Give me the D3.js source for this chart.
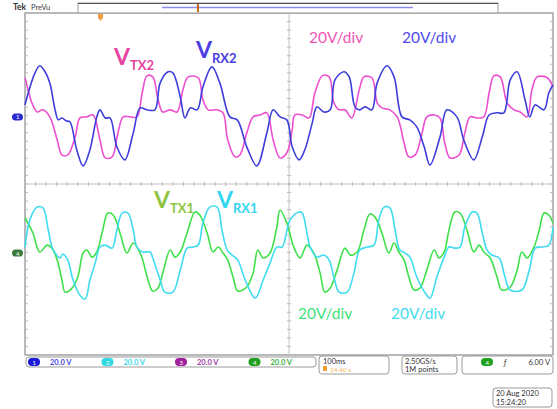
<!DOCTYPE html>
<html>
<head>
<meta charset="utf-8">
<script src="https://cdn.jsdelivr.net/npm/d3@7.9.0/dist/d3.min.js"></script>
<style>
  body { margin: 0; background: #fff; }
  svg { display: block; font-family: Lato, "Open Sans", sans-serif; }
</style>
</head>
<body>
<svg id="scope" width="557" height="409"></svg>
<script>
// time in ms (100 ms/div, 10 div), voltage in V (20 V/div)
const rx2 = [[0,5.6],[9,13.6],[19,20.6],[28,23.9],[38,21.1],[47,15.9],[57,3.3],[63,-1.4],[70,-0.5],[78,-1.9],[85,-2.3],[98,-15.4],[110,-22.9],[123,-15.4],[136,0],[142,3.3],[152,-0.5],[161,-0.5],[174,-14],[189,-20.1],[205,-7.5],[218,4.2],[231,3.3],[246,3.3],[256,15.9],[271,21.1],[280,20.6],[294,9.4],[303,-0.5],[313,4.2],[326,3.3],[337,14],[354,23.4],[369,15.9],[388,0],[402,-1.4],[420,-14],[439,-22.9],[458,-7.5],[470,3.3],[483,0],[496,-1.4],[506,-14],[519,-20.1],[530,-15.4],[544,-2.8],[553,4.7],[566,2.3],[578,3.3],[587,17.3],[604,21.1],[614,18.7],[625,4.7],[634,3.3],[644,4.7],[657,3.3],[667,15.9],[686,23.9],[699,18.7],[714,0],[729,-1.4],[742,-4.7],[756,-14],[767,-22.5],[786,-9.4],[799,3.3],[818,0],[831,-10.8],[850,-20.1],[866,-9.4],[879,0.9],[894,1.9],[907,1.9],[919,17.3],[932,21.1],[947,8],[956,0],[966,5.6],[983,3.3],[992,11.2],[1000,15]];
const tx2 = [[0,18.3],[6,12.6],[13,6.6],[23,2.3],[34,3.3],[47,0],[61,-10.8],[70,-17.8],[81,-17.8],[95,-9.4],[104,-0.5],[117,0],[129,0.9],[142,-10.8],[152,-19.2],[165,-18.7],[176,-7.5],[186,0],[199,0],[212,0],[222,11.2],[231,19.2],[242,18.7],[252,8],[261,2.3],[275,3.3],[288,2.3],[299,12.6],[309,18.7],[328,18.3],[337,8],[347,3.3],[364,3.3],[375,1.9],[384,-10.8],[398,-18.7],[407,-17.8],[420,-7.5],[432,0],[445,0.9],[458,1.9],[470,-10.8],[483,-19.2],[496,-16.8],[506,-6.1],[511,0.9],[525,0.9],[538,-0.5],[549,11.2],[563,19.2],[576,18.7],[585,6.6],[595,3.3],[606,3.3],[619,-0.5],[633,12.6],[642,18.7],[657,18.3],[667,6.6],[676,4.2],[691,3.3],[705,0],[718,-12.2],[727,-18.7],[739,-17.8],[752,-7.5],[761,0],[775,0.9],[786,-0.5],[795,-12.2],[805,-19.2],[822,-17.8],[833,-7.5],[843,0],[856,-0.5],[869,0],[879,11.2],[888,19.2],[900,18.7],[913,6.6],[926,3.3],[938,2.3],[951,0],[960,12.6],[970,18.7],[989,18.3],[1000,14]];
const rx1 = [[0,2.8],[9,15.4],[23,21.5],[34,21.1],[44,10.8],[51,2.8],[57,0],[66,-2.3],[72,-0.5],[81,-3.3],[91,-12.6],[104,-19.7],[114,-21.5],[123,-12.6],[133,-4.7],[142,2.8],[152,3.7],[165,2.3],[174,10.8],[184,18.7],[195,18.7],[205,10.8],[212,2.8],[223,0.5],[237,0.5],[242,-2.3],[256,-12.6],[265,-18.3],[280,-18.3],[294,-8],[307,2.3],[318,2.8],[328,3.7],[337,14],[350,21.5],[364,21.5],[373,10.8],[383,1.4],[392,-0.9],[403,-3.3],[417,-12.6],[436,-21.1],[451,-12.6],[464,-4.7],[477,2.8],[487,2.8],[502,15.4],[519,19.2],[525,18.7],[534,9.4],[540,2.8],[553,-1.9],[566,-0.9],[576,-3.3],[585,-11.2],[595,-18.3],[610,-18.3],[623,-9.4],[634,1.4],[648,2.8],[661,3.7],[670,15.4],[680,21.5],[691,21.1],[701,10.8],[710,1.4],[720,0],[729,-1.9],[742,-11.2],[758,-18.7],[767,-21.1],[780,-11.2],[794,-1.9],[803,2.8],[814,2.3],[824,2.8],[833,12.2],[847,19.2],[856,18.7],[866,9.4],[875,1.4],[884,-0.9],[898,-2.3],[909,-11.2],[919,-17.3],[941,-17.3],[955,-8],[966,2.3],[979,2.8],[992,3.7],[1000,12.2]];
const tx1 = [[0,16.4],[15,9.4],[28,0.5],[42,3.7],[51,2.3],[61,-3.3],[70,-12.6],[76,-18.3],[89,-16.4],[100,-11.2],[110,0],[117,1.4],[127,-1.9],[136,0.5],[146,9.4],[157,18.7],[167,17.8],[180,9.4],[193,0],[205,4.7],[218,0],[223,-3.3],[233,-12.6],[242,-17.8],[252,-16.4],[261,-9.4],[275,1.4],[284,-1.9],[294,0.5],[307,9.4],[322,19.2],[331,17.8],[345,9.4],[356,0.5],[366,2.8],[375,0],[384,-3.3],[394,-11.2],[403,-17.8],[420,-15.9],[432,-9.4],[441,1.4],[451,-2.3],[464,0],[477,12.2],[483,20.1],[496,14],[509,2.8],[521,-2.3],[534,3.7],[547,0],[559,-9.4],[568,-18.3],[578,-16.4],[591,-8],[606,2.3],[616,-0.9],[629,0.5],[642,10.8],[653,18.3],[663,16.8],[676,9.4],[689,0],[699,4.7],[708,0.5],[718,-3.3],[727,-11.2],[737,-17.3],[748,-16.4],[761,-8],[775,1.4],[784,-2.3],[794,0.5],[803,10.8],[814,19.2],[824,18.7],[837,10.8],[850,0.5],[860,3.7],[869,0.5],[881,-2.3],[894,-11.2],[903,-17.3],[919,-15.9],[932,-8],[941,0.5],[951,-2.3],[964,2.8],[974,10.8],[983,18.7],[992,17.8],[1000,14]];

const channels = ["1", "2", "3", "4"];
const channelScales = ["20.0 V", "20.0 V", "20.0 V", "20.0 V"];
const timebase = "100ms";
const triggerTime = "14.40 s";
const sampleRate = "2.50GS/s";
const recordLength = "1M points";
const triggerLevel = "6.00 V";
const dateText = ["20 Aug 2020", "15:24:20"];

const svg = d3.select("#scope");
const L = 25, R = 553, T = 13, B = 355;
const divX = (R - L) / 10, divY = (B - T) / 8;

const x = d3.scaleLinear().domain([0, 1000]).range([L, R]);
// full screen is 8 div * 20 V
const y = d3.scaleLinear().domain([-80, 80]).range([B, T]);
const topOffset = 31.4, botOffset = -32.3;

// graticule
const g = svg.append("g");
g.append("rect").attr("x", L).attr("y", T).attr("width", R - L).attr("height", B - T)
  .attr("fill", "none").attr("stroke", "#8a8a8a").attr("stroke-width", 1.2);
const cx = (L + R) / 2, cy = (T + B) / 2;
g.append("line").attr("x1", L).attr("x2", R).attr("y1", cy).attr("y2", cy).attr("stroke", "#c4c4c4");
g.append("line").attr("x1", cx).attr("x2", cx).attr("y1", T).attr("y2", B).attr("stroke", "#c4c4c4");
for (let i = 0; i <= 50; i++) {
  const xx = L + i * divX / 5;
  g.append("line").attr("x1", xx).attr("x2", xx).attr("y1", cy - 2).attr("y2", cy + 2).attr("stroke", "#bbb");
}
for (let i = 0; i <= 40; i++) {
  const yy = T + i * divY / 5;
  g.append("line").attr("x1", cx - 2).attr("x2", cx + 2).attr("y1", yy).attr("y2", yy).attr("stroke", "#bbb");
  g.append("line").attr("x1", L).attr("x2", L + 3).attr("y1", yy).attr("y2", yy).attr("stroke", "#bbb");
  g.append("line").attr("x1", R - 3).attr("x2", R).attr("y1", yy).attr("y2", yy).attr("stroke", "#bbb");
}

function trace(data, offset, color) {
  const line = d3.line().x(d => x(d[0])).y(d => y(d[1] + offset)).curve(d3.curveCatmullRom.alpha(0.5));
  svg.append("path").datum(data).attr("d", line)
    .attr("fill", "none").attr("stroke", color).attr("stroke-width", 1.6)
    .attr("stroke-linejoin", "round");
}
trace(tx2, topOffset, "#ec4fcf");
trace(rx2, topOffset, "#3d3ddc");
trace(tx1, botOffset, "#3fe04a");
trace(rx1, botOffset, "#3fdcef");

// ground markers
function marker(yy, color, label) {
  svg.append("rect").attr("x", 12).attr("y", yy - 3.5).attr("width", 11).attr("height", 7).attr("rx", 3.5).attr("fill", color);
  svg.append("text").attr("x", 16).attr("y", yy + 2.5).attr("font-size", 6).attr("fill", "#fff").text(label);
}
marker(y(topOffset), "#2a2ad0", channels[0]);
marker(y(botOffset), "#3a7a3a", channels[3]);

// trace labels
function vlabel(xx, yy, sub, color) {
  const t = svg.append("text").attr("x", xx).attr("y", yy).attr("fill", color).attr("font-weight", "bold");
  t.append("tspan").attr("font-size", 23).text("V");
  t.append("tspan").attr("font-size", 13).attr("dy", 5).text(sub);
}
vlabel(114, 65, "TX2", "#e5449f");
vlabel(196, 58, "RX2", "#4a3ee2");
vlabel(154, 208, "TX1", "#8fc43f");
vlabel(217, 208, "RX1", "#33d6f0");

function divText(xx, yy, color) {
  svg.append("text").attr("x", xx).attr("y", yy).attr("font-size", 15.5).attr("fill", color).text("20V/div");
}
divText(309, 43, "#ef55b4");
divText(402, 43, "#5048ee");
divText(298, 319, "#3fe37a");
divText(391, 319, "#3fdcef");

// header
svg.append("text").attr("x", 13).attr("y", 10).attr("font-size", 8.5).attr("font-weight", "bold").attr("fill", "#333").text("Tek");
svg.append("text").attr("x", 31).attr("y", 10).attr("font-size", 7.5).attr("fill", "#444").text("PreVu");
svg.append("rect").attr("x", 78).attr("y", 3).attr("width", 420).attr("height", 10).attr("fill", "#fff").attr("stroke", "#999");
svg.append("line").attr("x1", 78).attr("x2", 498).attr("y1", 3.5).attr("y2", 3.5).attr("stroke", "#555").attr("stroke-width", 1.2);
svg.append("line").attr("x1", 162).attr("x2", 413).attr("y1", 7.5).attr("y2", 7.5).attr("stroke", "#8c8cee").attr("stroke-width", 1.5);
svg.append("line").attr("x1", 198).attr("x2", 198).attr("y1", 4).attr("y2", 12).attr("stroke", "#c06a20").attr("stroke-width", 2);
svg.append("path").attr("d", "M98,14 L103,14 L103,18 L100.5,21 L98,18 Z").attr("fill", "#f0a040");

// status bar
function box(x0, y0, w, h) {
  svg.append("rect").attr("x", x0).attr("y", y0).attr("width", w).attr("height", h).attr("rx", 3)
    .attr("fill", "#fff").attr("stroke", "#999").attr("stroke-width", 1);
}
box(26, 357, 290, 10);
const chColors = ["#1a1ad8", "#30d8e0", "#a0209a", "#20a020"];
const chText = ["#4a4ae0", "#40d8e8", "#a040a8", "#40b040"];
channels.forEach((c, i) => {
  const x0 = 28 + i * 73.5;
  svg.append("rect").attr("x", x0).attr("y", 358).attr("width", 12).attr("height", 8).attr("rx", 4).attr("fill", chColors[i]);
  svg.append("text").attr("x", x0 + 4.5).attr("y", 364.5).attr("font-size", 6).attr("fill", "#fff").text(c);
  svg.append("text").attr("x", x0 + 22).attr("y", 365).attr("font-size", 7.5).attr("font-weight", "bold").attr("fill", chText[i]).text(channelScales[i]);
});
box(319, 356, 70, 18);
svg.append("text").attr("x", 323).attr("y", 364).attr("font-size", 7.5).attr("fill", "#333").text(timebase);
svg.append("rect").attr("x", 323).attr("y", 366).attr("width", 4).attr("height", 5).attr("fill", "#f0a030");
svg.append("text").attr("x", 330).attr("y", 371.5).attr("font-size", 6.5).attr("fill", "#f0b050").text(triggerTime);
box(402, 356, 55, 18);
svg.append("text").attr("x", 405).attr("y", 364).attr("font-size", 7.5).attr("fill", "#333").text(sampleRate);
svg.append("text").attr("x", 405).attr("y", 372).attr("font-size", 7.5).attr("fill", "#333").text(recordLength);
box(462, 356, 91, 18);
svg.append("rect").attr("x", 481).attr("y", 358).attr("width", 12).attr("height", 8).attr("rx", 4).attr("fill", "#20a020");
svg.append("text").attr("x", 485.5).attr("y", 364.5).attr("font-size", 6).attr("fill", "#fff").text(channels[3]);
svg.append("text").attr("x", 504).attr("y", 365).attr("font-size", 8).attr("font-style", "italic").attr("fill", "#333").text("ƒ");
svg.append("text").attr("x", 550).attr("y", 365).attr("text-anchor", "end").attr("font-size", 7.5).attr("fill", "#333").text(triggerLevel);
box(493, 388, 59, 19);
svg.append("text").attr("x", 496).attr("y", 396).attr("font-size", 7.5).attr("fill", "#333").text(dateText[0]);
svg.append("text").attr("x", 496).attr("y", 404.5).attr("font-size", 7.5).attr("fill", "#333").text(dateText[1]);
</script>
</body>
</html>
